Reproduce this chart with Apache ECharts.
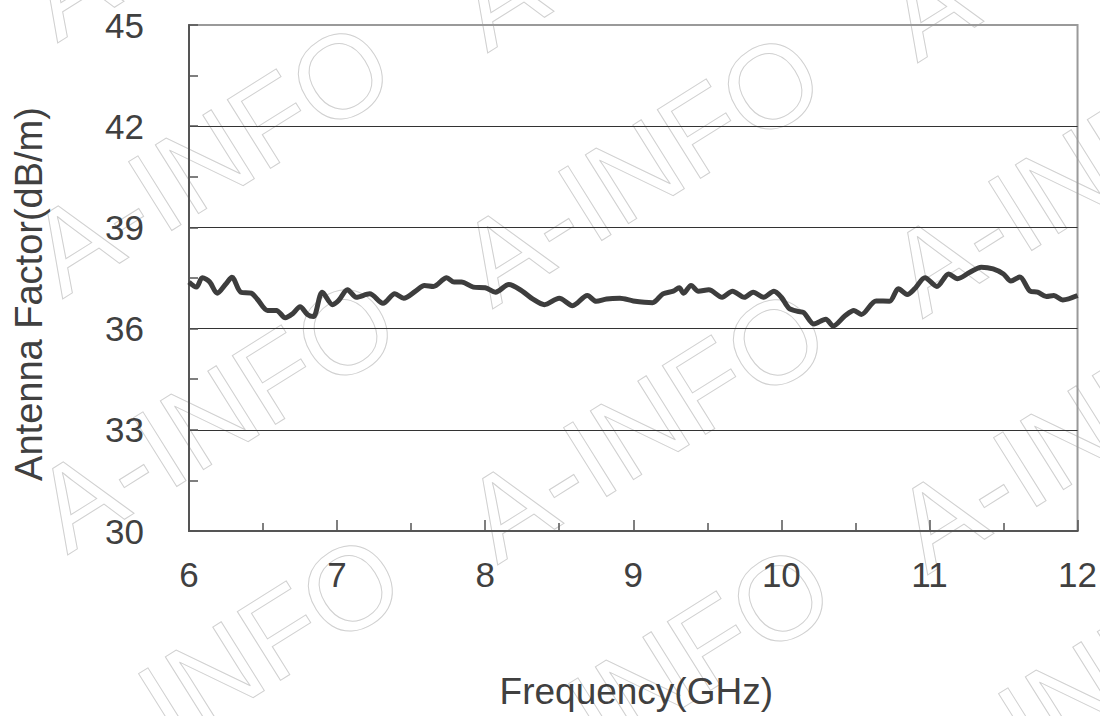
<!DOCTYPE html>
<html>
<head>
<meta charset="utf-8">
<script src="https://cdn.jsdelivr.net/npm/echarts@6/dist/echarts.min.js"></script>
<style>
html,body{margin:0;padding:0;background:#fff;}
#chart{width:1100px;height:716px;}
</style>
</head>
<body>
<div id="chart"></div>
<script>
// Frequency (GHz)
var freq = [6.00, 6.05, 6.09, 6.14, 6.19, 6.25, 6.29, 6.35, 6.42, 6.46, 6.53, 6.59, 6.65, 6.70, 6.75, 6.80, 6.84, 6.90, 6.97, 7.01,
  7.07, 7.13, 7.22, 7.31, 7.39, 7.45, 7.53, 7.59, 7.65, 7.74, 7.79, 7.84, 7.92, 8.00, 8.07, 8.16, 8.25, 8.32, 8.40, 8.50,
  8.59, 8.69, 8.75, 8.82, 8.91, 9.00, 9.13, 9.20, 9.27, 9.31, 9.34, 9.39, 9.44, 9.51, 9.60, 9.67, 9.75, 9.81, 9.88, 9.95,
  10.00, 10.05, 10.11, 10.15, 10.22, 10.30, 10.35, 10.43, 10.49, 10.54, 10.64, 10.73, 10.79, 10.85, 10.90, 10.97, 11.05, 11.13, 11.19, 11.27,
  11.35, 11.43, 11.50, 11.55, 11.61, 11.68, 11.73, 11.79, 11.84, 11.90, 12.00];
// Antenna Factor (dB/m)
var antennaFactor = [37.38, 37.23, 37.51, 37.38, 37.05, 37.33, 37.52, 37.08, 37.05, 36.88, 36.54, 36.54, 36.32, 36.44, 36.65, 36.42, 36.36, 37.08, 36.71, 36.83,
  37.15, 36.93, 37.03, 36.75, 37.03, 36.90, 37.11, 37.28, 37.25, 37.51, 37.38, 37.38, 37.23, 37.21, 37.08, 37.31, 37.11, 36.88, 36.71, 36.90,
  36.68, 36.98, 36.81, 36.88, 36.90, 36.82, 36.77, 37.03, 37.11, 37.21, 37.05, 37.28, 37.11, 37.15, 36.93, 37.11, 36.93, 37.08, 36.93, 37.11,
  36.93, 36.61, 36.51, 36.48, 36.14, 36.28, 36.08, 36.38, 36.54, 36.42, 36.82, 36.81, 37.18, 37.01, 37.18, 37.51, 37.25, 37.62, 37.48, 37.66,
  37.82, 37.77, 37.62, 37.41, 37.53, 37.11, 37.08, 36.95, 36.98, 36.85, 36.98];
var xTicks = [6, 7, 8, 9, 10, 11, 12];
var yTicks = [30, 33, 36, 39, 42, 45];
var watermarkText = 'A-INFO';

var seriesData = freq.map(function (f, i) { return [f, antennaFactor[i]]; });

// background watermark (decoration)
var watermark = [];
for (var r = -1; r <= 2; r++) {
  for (var c = 0; c <= 2; c++) {
    watermark.push({
      type: 'text',
      x: 210 + 430 * c + 5 * r,
      y: 158 + 256 * r + 10 * c,
      rotation: 0.56,
      silent: true,
      z: -1,
      style: {
        text: watermarkText,
        fontSize: 118,
        fontFamily: 'Liberation Sans, Arial, sans-serif',
        fill: 'transparent',
        stroke: '#d0d0d0',
        lineWidth: 1,
        align: 'center',
        verticalAlign: 'middle',
        textAlign: 'center',
        textVerticalAlign: 'middle'
      }
    });
  }
}

var textColor = '#404040';
var fontFam = 'Liberation Sans, Arial, sans-serif';

var chart = echarts.init(document.getElementById('chart'), null, { renderer: 'svg' });
chart.setOption({
  backgroundColor: '#ffffff',
  animation: false,
  graphic: watermark,
  grid: {
    left: 189, right: 21, top: 25, bottom: 185,
    show: true, borderColor: '#9a9a9a', borderWidth: 2, backgroundColor: 'transparent'
  },
  xAxis: {
    type: 'value',
    min: xTicks[0], max: xTicks[xTicks.length - 1], interval: 1,
    name: 'Frequency(GHz)',
    nameLocation: 'middle',
    nameGap: 142,
    nameTextStyle: { fontSize: 37, color: textColor, fontFamily: fontFam, padding: [0, 0, 0, 6] },
    axisLine: { show: true, lineStyle: { color: '#555555', width: 2 } },
    axisTick: { show: true, inside: true, length: 11, lineStyle: { color: '#555555', width: 1.5 } },
    minorTick: { show: true, splitNumber: 2, length: 8, lineStyle: { color: '#555555', width: 1.5 } },
    axisLabel: { fontSize: 35, color: textColor, fontFamily: fontFam, margin: 26 },
    splitLine: { show: false }
  },
  yAxis: {
    type: 'value',
    min: yTicks[0], max: yTicks[yTicks.length - 1], interval: 3,
    name: 'Antenna Factor(dB/m)',
    nameLocation: 'middle',
    nameRotate: 90,
    nameGap: 141,
    nameTextStyle: { fontSize: 38, color: textColor, fontFamily: fontFam, padding: [0, 32, 0, 0] },
    axisLine: { show: true, lineStyle: { color: '#555555', width: 2 } },
    axisTick: { show: true, inside: true, length: 9, lineStyle: { color: '#555555', width: 1.5 } },
    minorTick: { show: true, splitNumber: 2, length: 9, lineStyle: { color: '#555555', width: 1.5 } },
    axisLabel: { fontSize: 35, color: textColor, fontFamily: fontFam, margin: 45 },
    splitLine: { show: true, showMaxLine: false, lineStyle: { color: '#333333', width: 1.2 } }
  },
  series: [{
    type: 'line',
    data: seriesData,
    showSymbol: false,
    smooth: 0.3,
    lineStyle: { color: '#3d3d3d', width: 5 },
    z: 5
  }]
});
</script>
</body>
</html>
